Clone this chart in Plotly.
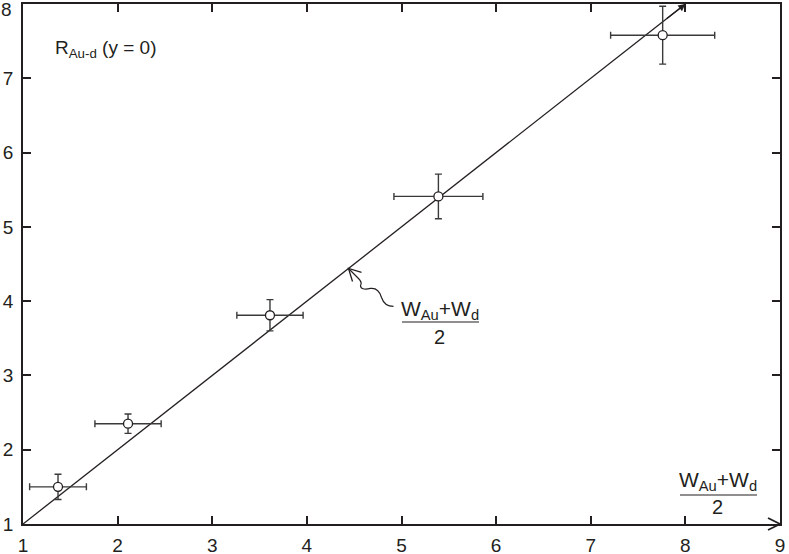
import plotly.graph_objects as go

# ---- data ----
x_vals = [1.37, 2.11, 3.61, 5.39, 7.76]
y_vals = [1.50, 2.35, 3.81, 5.41, 7.58]
x_err = [0.30, 0.35, 0.35, 0.47, 0.55]
y_err = [0.17, 0.13, 0.21, 0.30, 0.39]

line_x = [1, 8]
line_y = [1, 8]

x_ticks = [1, 2, 3, 4, 5, 6, 7, 8, 9]
y_ticks = [1, 2, 3, 4, 5, 6, 7, 8]

pointer_x = 4.44  # where the curly pointer touches the line
pointer_y = 4.44

INK = "#231f20"
FONT = "Liberation Sans, Arial, Helvetica, sans-serif"

fig = go.Figure()

# fitted line y = x
fig.add_trace(go.Scatter(
    x=line_x, y=line_y, mode="lines",
    line=dict(color=INK, width=1.3),
    hoverinfo="skip", showlegend=False, cliponaxis=False,
))

# data points with error bars
fig.add_trace(go.Scatter(
    x=x_vals, y=y_vals, mode="markers",
    marker=dict(symbol="circle", size=9, color="white",
                line=dict(color=INK, width=1.3)),
    error_x=dict(type="data", array=x_err, color="#3a3a3a", thickness=1.4, width=3.5),
    error_y=dict(type="data", array=y_err, color="#3a3a3a", thickness=1.4, width=3.5),
    showlegend=False, cliponaxis=False,
))

axis_common = dict(
    showgrid=False, zeroline=False, showline=True, linecolor=INK, linewidth=1.8,
    mirror="allticks", ticks="inside", ticklen=8, tickwidth=1.6, tickcolor=INK,
    tickfont=dict(family=FONT, size=19, color=INK), automargin=False,
    ticklabeloverflow="allow",
)

# the topmost y label sits lower in the reference, so it is drawn separately
y_ticktext = [str(v) for v in y_ticks[:-1]] + [""]

fig.update_layout(
    width=789, height=554,
    margin=dict(l=23, r=9, t=4, b=30, autoexpand=False),
    paper_bgcolor="white", plot_bgcolor="white",
    xaxis=dict(range=[1, 9], tickvals=x_ticks, ticktext=[str(v) for v in x_ticks],
               ticklabelstandoff=3, **axis_common),
    yaxis=dict(range=[1, 8], tickvals=y_ticks, ticktext=y_ticktext,
               ticklabelstandoff=4, **axis_common),
    font=dict(family=FONT, color=INK),
)

# arrowhead at end of the fitted line
fig.add_annotation(
    x=line_x[1], y=line_y[1], xref="x", yref="y", text="",
    showarrow=True, ax=-20, ay=15.7, axref="pixel", ayref="pixel",
    arrowhead=2, arrowsize=1.1, arrowwidth=1.3, arrowcolor=INK, standoff=0,
)

shapes = []
# chevron arrow on the x axis end (paper refs so it is not clipped)
shapes.append(dict(
    type="path", xref="paper", yref="paper", xsizemode="pixel", ysizemode="pixel",
    xanchor=1, yanchor=0, path="M-12,6 L0,0 L-12,-6",
    line=dict(color=INK, width=1.8),
))
# curly pointer with open arrowhead
shapes.append(dict(
    type="path", xref="x", yref="y", xsizemode="pixel", ysizemode="pixel",
    xanchor=pointer_x, yanchor=pointer_y,
    path="M0,0 L10,-10 Q14,-14 12,-17 Q12,-22 22,-20 Q30,-19 33,-29 Q36,-38 45,-38",
    line=dict(color=INK, width=1.2),
))
shapes.append(dict(
    type="path", xref="x", yref="y", xsizemode="pixel", ysizemode="pixel",
    xanchor=pointer_x, yanchor=pointer_y,
    path="M13,-4 L0,0 L4,-13",
    line=dict(color=INK, width=1.3),
))

# fraction bars
def px_x(p):
    return (p - 23) / 757.0

def px_y(p):
    return (524 - p) / 520.0

shapes.append(dict(type="line", xref="paper", yref="paper",
                   x0=px_x(402), x1=px_x(479), y0=px_y(322), y1=px_y(322),
                   line=dict(color=INK, width=1.2)))
shapes.append(dict(type="line", xref="paper", yref="paper",
                   x0=px_x(680), x1=px_x(757), y0=px_y(495), y1=px_y(495),
                   line=dict(color=INK, width=1.2)))
fig.update_layout(shapes=shapes)

frac_top = "W<sub>Au</sub>+W<sub>d</sub>"

def add_text(text, px, py, size, anchor="center"):
    fig.add_annotation(x=px_x(px), y=px_y(py), xref="paper", yref="paper",
                       text=text, showarrow=False, xanchor=anchor, yanchor="middle",
                       font=dict(family=FONT, size=size, color=INK))

add_text(frac_top, 440, 310, 21)
add_text("2", 439, 336.5, 20)
add_text(frac_top, 718, 481, 21)
add_text("2", 717, 506.5, 20)
add_text("R<sub>Au-d</sub> (y = 0)", 53, 49, 19, anchor="left")
add_text(str(y_ticks[-1]), 14, 10, 19, anchor="right")

fig.write_html("out.html", config={"displayModeBar": False},
               post_script="document.body.style.margin='0px';")
